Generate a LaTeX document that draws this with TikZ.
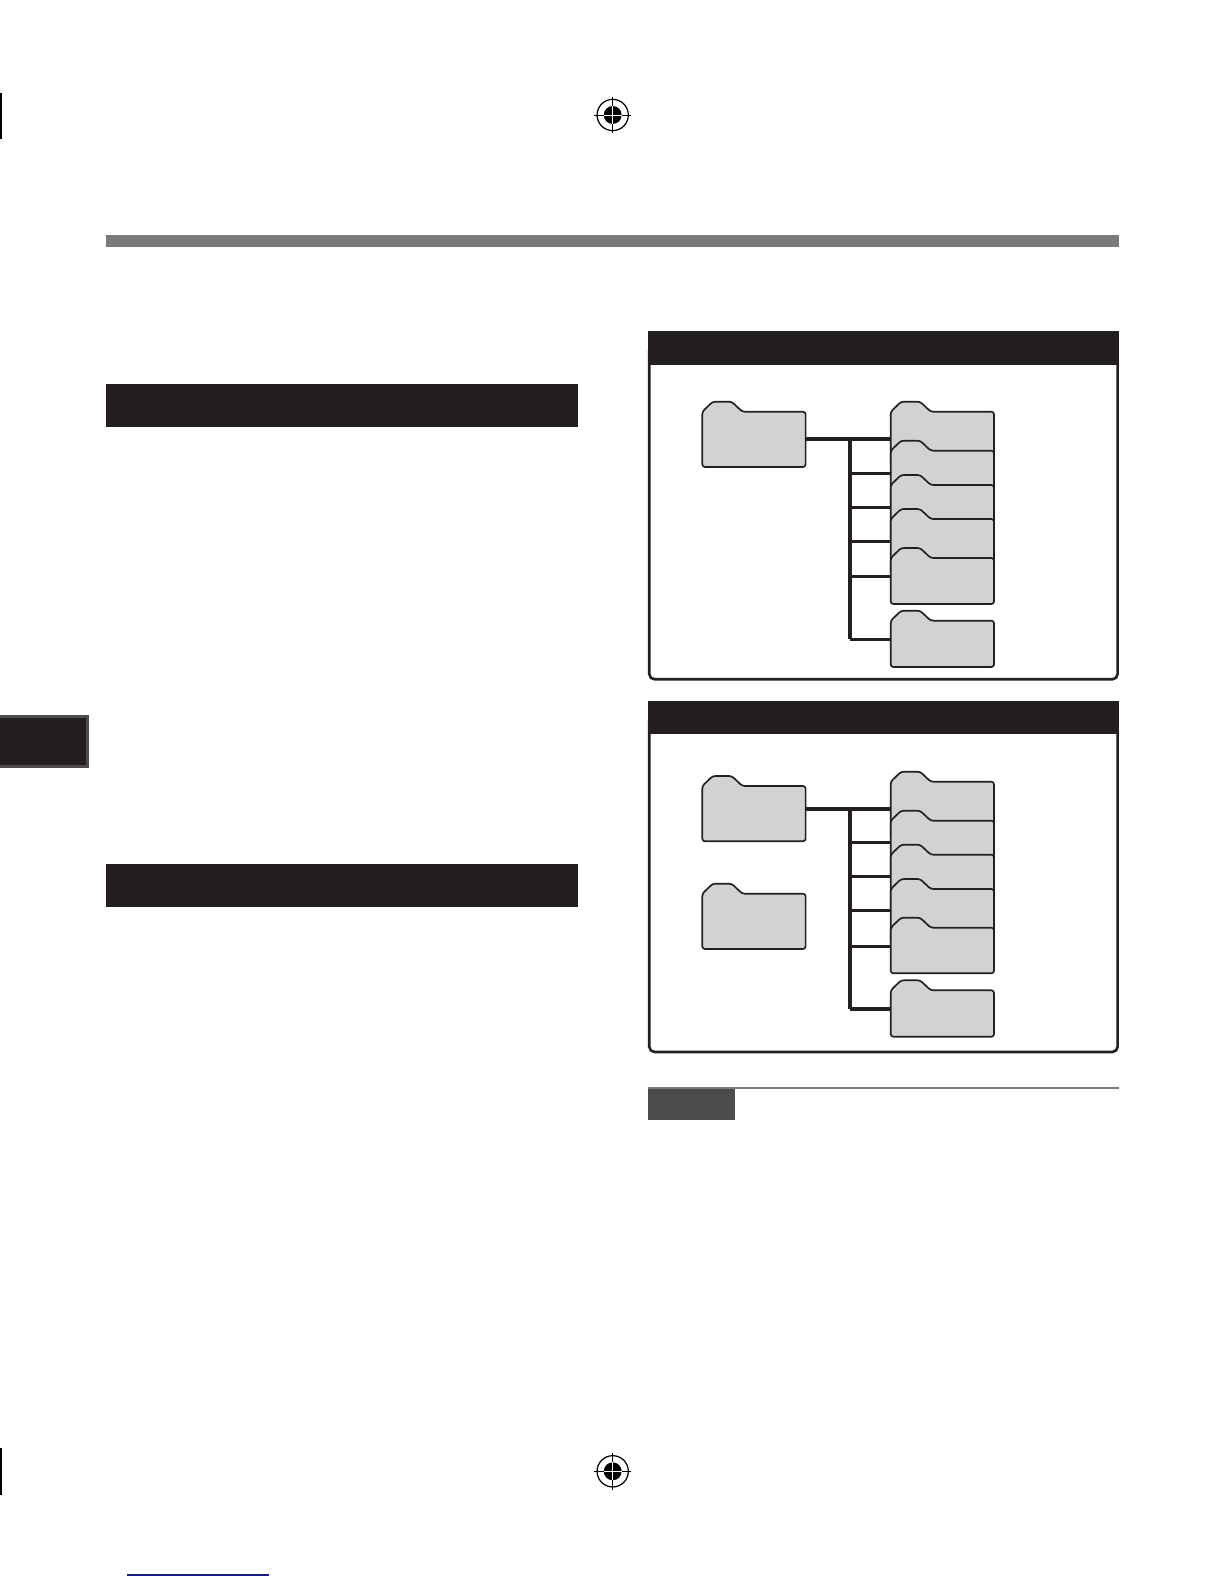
\documentclass[tikz,border=0pt]{standalone}
\usetikzlibrary{fit}
\definecolor{pageblack}{HTML}{231F20}
\definecolor{foldergray}{HTML}{D2D2D2}
\definecolor{rulegray}{HTML}{7A7A7A}
\definecolor{notegray}{HTML}{4D4B4C}
\definecolor{linkblue}{HTML}{1A1A80}
\tikzset{
  bar/.style={fill=pageblack, inner sep=0pt},
  wire/.style={draw=pageblack, line width=1.9pt},
  thickwire/.style={draw=pageblack, line width=2.3pt},
  folderline/.style={draw=pageblack, fill=foldergray, line width=0.95pt, rounded corners=1.5pt, line join=round},
  panelbox/.style={draw=pageblack, fill=white, line width=1.5pt, rounded corners=3pt},
  target/.style={draw=black, line width=0.5pt}
}
% name, left edge, top of tab, bottom edge
\newcommand{\folder}[4]{
  \draw[folderline] (#2,#3+10) -- (#2+10.4,#3) -- (#2+29.4,#3) -- (#2+40,#3+10) -- (#2+103.3,#3+10) -- (#2+103.3,#4) -- (#2,#4) -- cycle;
  \node[fit={(#2,#3+10) (#2+103.3,#4)}, inner sep=0pt] (#1) {};
}
% registration mark at a centre
\newcommand{\regmark}[3]{
  \node[circle, draw=black, line width=0.7pt, minimum size=17.8pt, inner sep=0pt] (#1) at (#2,#3) {};
  \fill[black] (#1.center) circle (5.1pt);
  \draw[target] ([yshift=10.4pt]#1.center) -- ([yshift=-10.4pt]#1.center);
  \draw[target] ([xshift=-10.4pt]#1.center) -- ([xshift=10.4pt]#1.center);
  \draw[white, line width=0.3pt] ([yshift=5.1pt]#1.center) -- ([yshift=-5.1pt]#1.center);
  \draw[white, line width=0.3pt] ([xshift=-5.1pt]#1.center) -- ([xshift=5.1pt]#1.center);
}
\begin{document}
\begin{tikzpicture}[x=0.02cm, y=-0.02cm]
      \useasboundingbox (0,0) rectangle (1224,1584);

      % Page marks
      \regmark{marktop}{612.7}{115}
      \regmark{markbottom}{612.7}{1471.3}
      \coordinate (cropa) at (1,93);
      \coordinate (cropb) at (1,139);
      \coordinate (cropc) at (1,1448);
      \coordinate (cropd) at (1,1495);
      \draw[black, line width=0.7pt] (cropa) -- (cropb);
      \draw[black, line width=0.7pt] (cropc) -- (cropd);
      \coordinate (linka) at (127,1575);
      \coordinate (linkb) at (269,1575);
      \draw[linkblue, line width=0.8pt] (linka) -- (linkb);

      % Title rule
      \node[fit={(106,235) (1119,246.7)}, fill=rulegray, inner sep=0pt] (titlerule) {};

      % Left column
      \node[bar, fit={(106,384) (578,426.7)}] (headleft) {};
      \node[bar, fit={(106,864) (578,906.7)}] (headlower) {};

      % Side tab
      \node[fit={(0,715) (89,767.7)}, fill=notegray, inner sep=0pt] (sideouter) {};
      \node[bar, fit={(0,718) (86,764.7)}] (sideinner) {};

      % Upper panel
      \node[panelbox, fit={(649.3,345) (1117.6,679.3)}, inner sep=0pt] (panelone) {};
      \node[bar, fit={(648,331) (1119,365)}] (headone) {};

      \folder{source}{702.3}{401.7}{467}
      \folder{one}{890.7}{401.7}{467}
      \folder{two}{890.7}{440.7}{506}
      \folder{three}{890.7}{475}{540}
      \folder{four}{890.7}{509}{574.3}
      \folder{five}{890.7}{548}{604}
      \folder{six}{890.7}{610.7}{667}

      \coordinate (jointa) at (850,439);
      \coordinate (jointb) at (850,473.3);
      \coordinate (jointc) at (850,507.7);
      \coordinate (jointd) at (850,541.3);
      \coordinate (jointe) at (850,576.3);
      \coordinate (jointf) at (850,639.3);

      \draw[wire] (source.east |- jointa) -- (one.west |- jointa);
      \draw[wire] (jointa) -- (jointf);
      \draw[wire] (jointb) -- (two.west |- jointb);
      \draw[wire] (jointc) -- (three.west |- jointc);
      \draw[wire] (jointd) -- (four.west |- jointd);
      \draw[wire] (jointe) -- (five.west |- jointe);
      \draw[wire] (jointf) -- (six.west |- jointf);

      % Lower panel
      \node[panelbox, fit={(649.3,715) (1117.6,1052)}, inner sep=0pt] (paneltwo) {};
      \node[bar, fit={(648,701) (1119,734.3)}] (headtwo) {};

      \folder{sourceb}{702.3}{776}{841.3}
      \folder{sourcec}{702.3}{883.7}{949}
      \folder{oneb}{890.7}{771.7}{838}
      \folder{twob}{890.7}{810.7}{876}
      \folder{threeb}{890.7}{844.7}{910}
      \folder{fourb}{890.7}{879}{944}
      \folder{fiveb}{890.7}{917.7}{973.3}
      \folder{sixb}{890.7}{980.3}{1036.7}

      \coordinate (jointg) at (850,809);
      \coordinate (jointh) at (850,842.3);
      \coordinate (jointi) at (850,876.3);
      \coordinate (jointj) at (850,910.3);
      \coordinate (jointk) at (850,946.3);
      \coordinate (jointl) at (850,1009);

      \draw[thickwire] (sourceb.east |- jointg) -- (oneb.west |- jointg);
      \draw[wire] (jointg) -- (jointl);
      \draw[wire] (jointh) -- (twob.west |- jointh);
      \draw[wire] (jointi) -- (threeb.west |- jointi);
      \draw[wire] (jointj) -- (fourb.west |- jointj);
      \draw[wire] (jointk) -- (fiveb.west |- jointk);
      \draw[thickwire] (jointl) -- (sixb.west |- jointl);

      % Note heading
      \node[fit={(648,1087) (1119,1089)}, fill=rulegray, inner sep=0pt] (noterule) {};
      \node[fit={(648,1089) (735,1119.7)}, fill=notegray, inner sep=0pt] (notehead) {};
    \end{tikzpicture}
\end{document}
